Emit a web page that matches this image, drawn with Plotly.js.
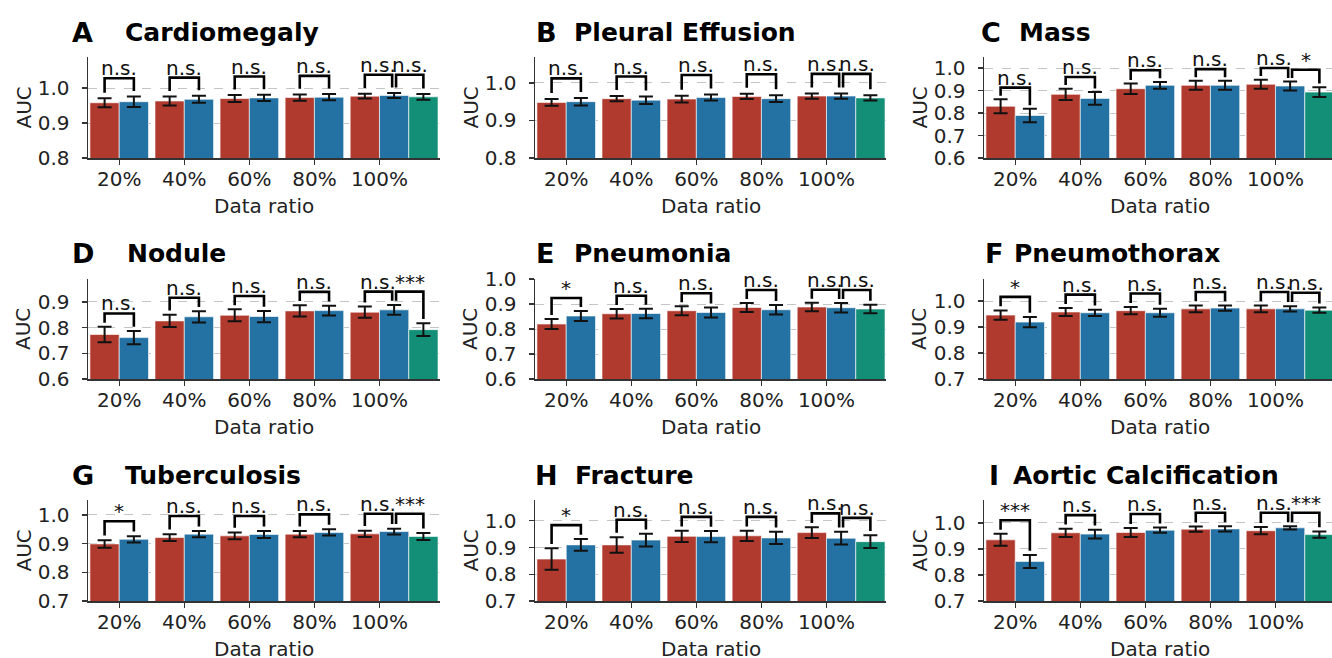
<!DOCTYPE html>
<html>
<head>
<meta charset="utf-8">
<script src="https://cdn.plot.ly/plotly-3.0.1.min.js"></script>
<style>html,body{margin:0;padding:0;background:#fff;}#chart{width:1332px;height:658px;}</style>
</head>
<body>
<div id="chart"></div>
<script>
// ---------------- DATA ----------------
const categories = ['20%', '40%', '60%', '80%', '100%'];
const panelLetters = ['A', 'B', 'C', 'D', 'E', 'F', 'G', 'H', 'I'];
const panelTitles = ['Cardiomegaly', 'Pleural Effusion', 'Mass', 'Nodule', 'Pneumonia',
  'Pneumothorax', 'Tuberculosis', 'Fracture', 'Aortic Calcification'];

// red series (mean AUC per data ratio)
const redAUC = [
  [0.958, 0.963, 0.970, 0.973, 0.977],
  [0.948, 0.958, 0.957, 0.964, 0.965],
  [0.830, 0.883, 0.908, 0.923, 0.928],
  [0.773, 0.826, 0.848, 0.865, 0.860],
  [0.820, 0.861, 0.873, 0.886, 0.888],
  [0.946, 0.958, 0.963, 0.970, 0.970],
  [0.899, 0.921, 0.927, 0.933, 0.934],
  [0.857, 0.910, 0.942, 0.944, 0.956],
  [0.935, 0.962, 0.963, 0.976, 0.970]
];
const redErr = [
  [0.013, 0.013, 0.010, 0.009, 0.007],
  [0.009, 0.007, 0.009, 0.007, 0.007],
  [0.031, 0.025, 0.023, 0.020, 0.020],
  [0.030, 0.024, 0.023, 0.022, 0.022],
  [0.020, 0.019, 0.018, 0.018, 0.017],
  [0.018, 0.015, 0.014, 0.013, 0.013],
  [0.013, 0.012, 0.012, 0.011, 0.011],
  [0.040, 0.029, 0.021, 0.019, 0.020],
  [0.023, 0.016, 0.017, 0.010, 0.014]
];
// blue series
const blueAUC = [
  [0.961, 0.968, 0.972, 0.974, 0.979],
  [0.950, 0.954, 0.961, 0.958, 0.965],
  [0.789, 0.865, 0.923, 0.923, 0.920],
  [0.761, 0.842, 0.843, 0.866, 0.869],
  [0.852, 0.862, 0.866, 0.877, 0.885],
  [0.919, 0.955, 0.955, 0.973, 0.970],
  [0.915, 0.933, 0.932, 0.939, 0.942],
  [0.910, 0.928, 0.941, 0.936, 0.935],
  [0.852, 0.957, 0.972, 0.977, 0.981]
];
const blueErr = [
  [0.015, 0.010, 0.009, 0.009, 0.007],
  [0.010, 0.010, 0.008, 0.009, 0.007],
  [0.030, 0.028, 0.015, 0.020, 0.020],
  [0.026, 0.022, 0.022, 0.019, 0.019],
  [0.020, 0.019, 0.020, 0.019, 0.019],
  [0.020, 0.012, 0.015, 0.010, 0.010],
  [0.011, 0.011, 0.012, 0.011, 0.010],
  [0.022, 0.024, 0.021, 0.023, 0.024],
  [0.025, 0.017, 0.010, 0.010, 0.006]
];
// green series (100% only)
const greenAUC = [0.975, 0.960, 0.893, 0.792, 0.880, 0.965, 0.925, 0.922, 0.955];
const greenErr = [0.008, 0.007, 0.022, 0.025, 0.017, 0.010, 0.012, 0.024, 0.012];

// significance: red vs blue at each ratio, and blue vs green at 100%
const sigRedBlue = [
  ['n.s.', 'n.s.', 'n.s.', 'n.s.', 'n.s.'],
  ['n.s.', 'n.s.', 'n.s.', 'n.s.', 'n.s.'],
  ['n.s.', 'n.s.', 'n.s.', 'n.s.', 'n.s.'],
  ['n.s.', 'n.s.', 'n.s.', 'n.s.', 'n.s.'],
  ['*', 'n.s.', 'n.s.', 'n.s.', 'n.s.'],
  ['*', 'n.s.', 'n.s.', 'n.s.', 'n.s.'],
  ['*', 'n.s.', 'n.s.', 'n.s.', 'n.s.'],
  ['*', 'n.s.', 'n.s.', 'n.s.', 'n.s.'],
  ['***', 'n.s.', 'n.s.', 'n.s.', 'n.s.']
];
const sigBlueGreen = ['n.s.', 'n.s.', '*', '***', 'n.s.', 'n.s.', '***', 'n.s.', '***'];

// axis settings per panel
const yRanges = [[0.8, 1.089], [0.8, 1.069], [0.6, 1.049], [0.6, 0.989], [0.6, 1.0],
  [0.7, 1.085], [0.7, 1.052], [0.7, 1.078], [0.7, 1.088]];
const yTicks = [[0.8, 0.9, 1.0], [0.8, 0.9, 1.0], [0.6, 0.7, 0.8, 0.9, 1.0], [0.6, 0.7, 0.8, 0.9],
  [0.6, 0.7, 0.8, 0.9, 1.0], [0.7, 0.8, 0.9, 1.0], [0.7, 0.8, 0.9, 1.0], [0.7, 0.8, 0.9, 1.0], [0.7, 0.8, 0.9, 1.0]];

// ---------------- LAYOUT GEOMETRY ----------------
const W = 1332, H = 658;
const colPx = [[88, 440], [535, 886], [984, 1332]];
const colCenterPx = [264, 711, 1160];
const rowPx = [[57, 158], [279, 379], [500, 601]];
const pxPerUnit = 65.06;
const letterX = [70, 534, 979, 70, 534, 983, 70, 533, 987];
const titleX = [123, 572, 1017, 125, 572, 1012, 123, 573, 1011];
const titleYOff = -25;
const RED = '#B03A2E', BLUE = '#2471A3', GREEN = '#148F77';
const FONT = 'DejaVu Sans';
const BW = 0.45;
const GAP = 0.016, BH = 0.036, INSET = 0.03;

const traces = [];
const layout = {
  width: W, height: H,
  margin: {l: 0, r: 0, t: 0, b: 0},
  paper_bgcolor: '#fff', plot_bgcolor: '#fff',
  showlegend: false, barmode: 'overlay',
  font: {family: FONT, color: '#222'},
  annotations: []
};

const xs = categories.map((c, i) => i);

for (let p = 0; p < 9; p++) {
  const col = p % 3, row = Math.floor(p / 3);
  const sfx = p === 0 ? '' : String(p + 1);
  const xa = 'x' + sfx, ya = 'y' + sfx;
  const [x0, x1] = colPx[col];
  const [yt, yb] = rowPx[row];
  layout['xaxis' + sfx] = {
    domain: [x0 / W, x1 / W], anchor: ya,
    range: [-0.48, -0.48 + (x1 - x0) / pxPerUnit],
    tickvals: xs, ticktext: categories,
    showgrid: false, zeroline: false, showline: true, linecolor: '#333', linewidth: 1.5,
    ticks: 'outside', ticklen: 5, tickwidth: 1.3, tickcolor: '#333', ticklabelstandoff: -3,
    tickfont: {size: 20, family: FONT, color: '#222'}, fixedrange: true
  };
  layout['yaxis' + sfx] = {
    domain: [1 - yb / H, 1 - yt / H], anchor: xa,
    range: yRanges[p], tickvals: yTicks[p], ticktext: yTicks[p].map(v => v.toFixed(1)),
    showgrid: true, gridcolor: '#c4c4c4', griddash: 'dash', gridwidth: 1,
    zeroline: false, showline: true, linecolor: '#333', linewidth: 1.5,
    ticks: 'outside', ticklen: 5, tickwidth: 1.3, tickcolor: '#333', ticklabelstandoff: 8,
    tickfont: {size: 20, family: FONT, color: '#222'}, fixedrange: true
  };

  const errStyle = {type: 'data', visible: true, color: '#111', thickness: 2, width: 7};
  const barLine = {color: 'rgba(255,255,255,0.6)', width: 1};
  traces.push({type: 'bar', x: xs, y: redAUC[p], width: BW, offset: -BW, xaxis: xa, yaxis: ya,
    marker: {color: RED, line: barLine}, error_y: Object.assign({array: redErr[p]}, errStyle), hoverinfo: 'skip'});
  traces.push({type: 'bar', x: xs, y: blueAUC[p], width: BW, offset: 0, xaxis: xa, yaxis: ya,
    marker: {color: BLUE, line: barLine}, error_y: Object.assign({array: blueErr[p]}, errStyle), hoverinfo: 'skip'});
  traces.push({type: 'bar', x: [xs[4]], y: [greenAUC[p]], width: BW, offset: BW, xaxis: xa, yaxis: ya,
    marker: {color: GREEN, line: barLine}, error_y: Object.assign({array: [greenErr[p]]}, errStyle), hoverinfo: 'skip'});

  // significance brackets
  const addBracket = (lx, ltop, rx, rtop, label) => {
    const top = Math.max(ltop, rtop) + GAP + BH;
    traces.push({type: 'scatter', mode: 'lines', xaxis: xa, yaxis: ya, cliponaxis: false,
      x: [lx, lx, rx, rx], y: [ltop + GAP, top, top, rtop + GAP],
      line: {color: '#000', width: 2.6}, hoverinfo: 'skip'});
    layout.annotations.push({xref: xa, yref: ya, x: (lx + rx) / 2, y: top, text: label,
      showarrow: false, xanchor: 'center', yanchor: 'bottom', yshift: -4,
      font: {size: 20, family: FONT, color: '#111'}});
  };
  for (let i = 0; i < xs.length; i++) {
    const lx = xs[i] - BW / 2, rx = xs[i] + BW / 2;
    addBracket(lx, redAUC[p][i] + redErr[p][i], i === 4 ? rx - INSET : rx,
      blueAUC[p][i] + blueErr[p][i], sigRedBlue[p][i]);
  }
  addBracket(xs[4] + BW / 2 + INSET, blueAUC[p][4] + blueErr[p][4], xs[4] + 1.5 * BW,
    greenAUC[p] + greenErr[p], sigBlueGreen[p]);

  // titles
  layout.annotations.push({xref: 'paper', yref: 'paper', x: letterX[p] / W, y: 1 - (yt + titleYOff) / H,
    xanchor: 'left', yanchor: 'middle', showarrow: false, text: '<b>' + panelLetters[p] + '</b>',
    font: {size: 27, family: FONT, color: '#000'}});
  layout.annotations.push({xref: 'paper', yref: 'paper', x: titleX[p] / W, y: 1 - (yt + titleYOff) / H,
    xanchor: 'left', yanchor: 'middle', showarrow: false, text: '<b>' + panelTitles[p] + '</b>',
    font: {size: 25, family: FONT, color: '#000'}});
  // axis titles
  layout.annotations.push({xref: 'paper', yref: 'paper', x: (x0 - 65) / W, y: 1 - ((yt + yb) / 2) / H,
    xanchor: 'center', yanchor: 'middle', showarrow: false, text: 'AUC', textangle: -90,
    font: {size: 20, family: FONT, color: '#222'}});
  layout.annotations.push({xref: 'paper', yref: 'paper', x: colCenterPx[col] / W,
    y: 1 - (yb + 48) / H, xanchor: 'center', yanchor: 'middle', showarrow: false, text: 'Data ratio',
    font: {size: 20, family: FONT, color: '#222'}});
}

Plotly.newPlot('chart', traces, layout, {staticPlot: true, displayModeBar: false});
</script>
</body>
</html>
